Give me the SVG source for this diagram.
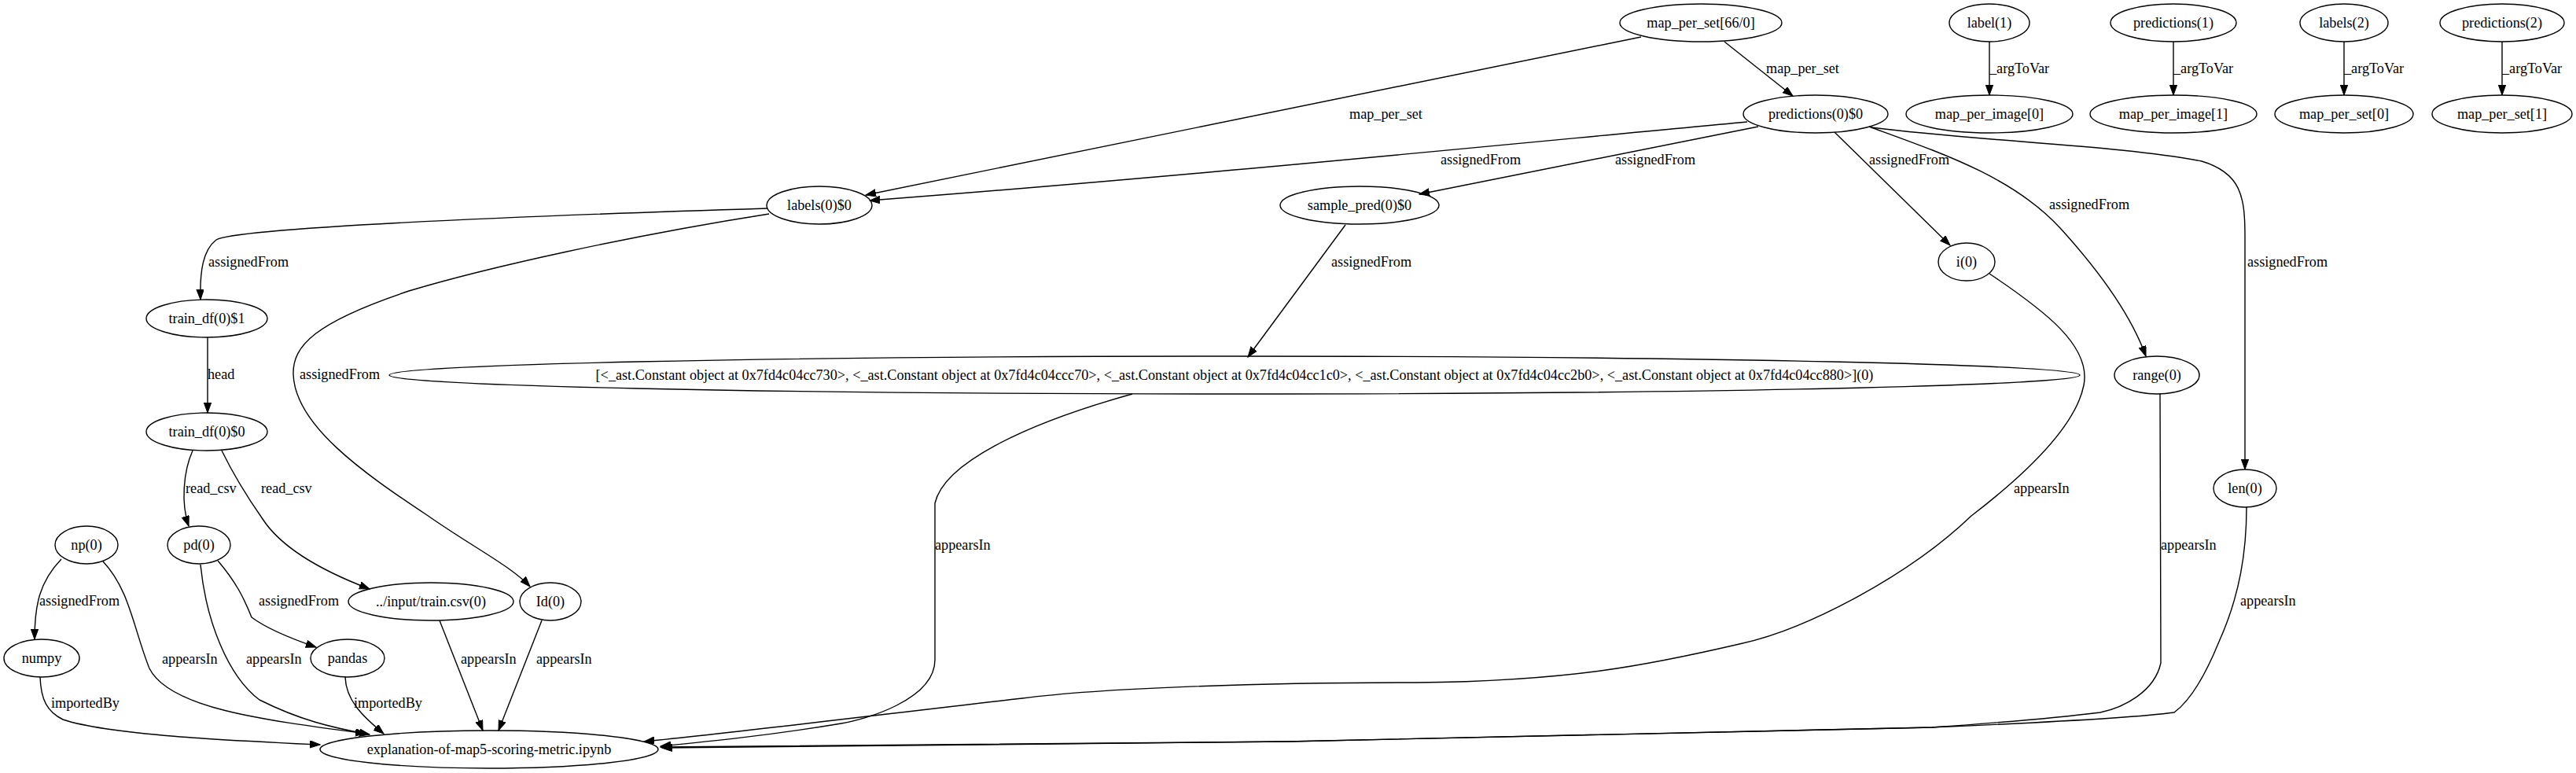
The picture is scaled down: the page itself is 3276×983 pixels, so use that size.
<svg xmlns="http://www.w3.org/2000/svg" width="3276" height="983" viewBox="0 0 3276 983">
<style>
text{font-family:"Liberation Serif","Times New Roman",serif;font-size:18.2px;fill:#000}
.n text{text-anchor:middle}
.n ellipse{fill:none;stroke:#000;stroke-width:1.4}
#edges path{fill:none;stroke:#000;stroke-width:1.4;marker-end:url(#arr)}
</style>
<defs>
<marker id="arr" markerUnits="userSpaceOnUse" markerWidth="14" markerHeight="10" refX="13" refY="4.7" orient="auto">
<path d="M0,0 L13,4.7 L0,9.4 z" fill="#000" stroke="#000" stroke-width="1"/>
</marker>
</defs>
<rect width="3276" height="983" fill="#fff"/>
<g id="edges">
<path d="M2087,47 L1101,248"/>
<text x="1716" y="151">map_per_set</text>
<path d="M2193,53 L2280,122"/>
<text x="2246" y="93">map_per_set</text>
<path d="M2222,155 C1900,185 1500,225 1106,255"/>
<text x="1832" y="209">assignedFrom</text>
<path d="M2236,161 L1805,247"/>
<text x="2054" y="209">assignedFrom</text>
<path d="M2333,168 L2480,312"/>
<text x="2377" y="209">assignedFrom</text>
<path d="M2377,161 C2470,195 2560,225 2620,290 C2670,345 2710,400 2729,453"/>
<text x="2606" y="266">assignedFrom</text>
<path d="M2380,162 C2520,180 2700,185 2800,205 C2850,220 2855,250 2855,300 L2855,597"/>
<text x="2858" y="339">assignedFrom</text>
<path d="M2530,53 L2530,121"/>
<text x="2530" y="93">_argToVar</text>
<path d="M2764,53 L2764,121"/>
<text x="2764" y="93">_argToVar</text>
<path d="M2981,53 L2981,121"/>
<text x="2981" y="93">_argToVar</text>
<path d="M3182,53 L3182,121"/>
<text x="3182" y="93">_argToVar</text>
<path d="M1711,286 L1587,454"/>
<text x="1693" y="339">assignedFrom</text>
<path d="M976,265 C650,275 300,290 275,305 C258,318 254,345 255,381"/>
<text x="265" y="339">assignedFrom</text>
<path d="M978,272 C800,300 620,340 520,370 C400,410 372,440 373,476 C375,540 460,600 543,655 C600,695 650,720 674,746"/>
<text x="381" y="482">assignedFrom</text>
<path d="M264,429 L264,525"/>
<text x="264" y="482">head</text>
<path d="M245,573 C233,600 230,640 240,669"/>
<text x="236" y="627">read_csv</text>
<path d="M282,573 C300,610 320,640 334,660 C360,700 420,730 470,749"/>
<text x="332" y="627">read_csv</text>
<path d="M78,711 C50,740 44,770 44,813"/>
<text x="50" y="770">assignedFrom</text>
<path d="M131,714 C165,750 170,800 190,850 C215,900 330,915 465,933"/>
<text x="206" y="844">appearsIn</text>
<path d="M51,861 C52,890 60,905 80,915 C140,935 300,942 407,947"/>
<text x="65" y="900">importedBy</text>
<path d="M255,718 C262,790 290,860 330,890 C380,915 420,925 470,934"/>
<text x="313" y="844">appearsIn</text>
<path d="M277,713 C300,740 310,760 320,785 C340,800 370,812 402,823"/>
<text x="329" y="770">assignedFrom</text>
<path d="M439,861 C440,890 460,910 488,933"/>
<text x="450" y="900">importedBy</text>
<path d="M559,789 L614,929"/>
<text x="586" y="844">appearsIn</text>
<path d="M689,789 L634,929"/>
<text x="682" y="844">appearsIn</text>
<path d="M1440,501 C1300,540 1200,590 1189,640 L1189,839 C1189,890 1100,915 1070,920 C980,935 900,943 840,949"/>
<text x="1189" y="699">appearsIn</text>
<path d="M2530,348 C2600,395 2660,440 2650,490 C2640,540 2580,600 2507,656 C2430,730 2300,800 2212,819 C2100,845 2000,866 1800,868 C1600,868 1400,875 1300,888 C1150,905 950,930 819,943"/>
<text x="2561" y="627">appearsIn</text>
<path d="M2747,501 L2748,843 C2740,880 2700,900 2671,906 C2600,915 2500,922 2457,925 L1638,943 L840,950"/>
<text x="2748" y="699">appearsIn</text>
<path d="M2857,645 C2857,700 2849,756 2822,816 C2800,870 2780,895 2765,906 C2700,915 2500,923 2457,925 L1638,943 L842,951"/>
<text x="2849" y="770">appearsIn</text>
</g>
<g id="n_map_per_set_66" class="n"><ellipse cx="2163" cy="29" rx="103" ry="24"/><text x="2163" y="35">map_per_set[66/0]</text></g>
<g id="n_label1" class="n"><ellipse cx="2530" cy="29" rx="51" ry="24"/><text x="2530" y="35">label(1)</text></g>
<g id="n_predictions1" class="n"><ellipse cx="2764" cy="29" rx="80" ry="24"/><text x="2764" y="35">predictions(1)</text></g>
<g id="n_labels2" class="n"><ellipse cx="2981" cy="29" rx="56" ry="24"/><text x="2981" y="35">labels(2)</text></g>
<g id="n_predictions2" class="n"><ellipse cx="3182" cy="29" rx="79" ry="24"/><text x="3182" y="35">predictions(2)</text></g>
<g id="n_predictions0" class="n"><ellipse cx="2309" cy="145" rx="92" ry="24"/><text x="2309" y="151">predictions(0)$0</text></g>
<g id="n_mpi0" class="n"><ellipse cx="2530" cy="145" rx="106" ry="24"/><text x="2530" y="151">map_per_image[0]</text></g>
<g id="n_mpi1" class="n"><ellipse cx="2764" cy="145" rx="106" ry="24"/><text x="2764" y="151">map_per_image[1]</text></g>
<g id="n_mps0" class="n"><ellipse cx="2981" cy="145" rx="88" ry="24"/><text x="2981" y="151">map_per_set[0]</text></g>
<g id="n_mps1" class="n"><ellipse cx="3182" cy="145" rx="89" ry="24"/><text x="3182" y="151">map_per_set[1]</text></g>
<g id="n_labels0" class="n"><ellipse cx="1042" cy="261" rx="67" ry="24"/><text x="1042" y="267">labels(0)$0</text></g>
<g id="n_sample_pred" class="n"><ellipse cx="1729" cy="261" rx="101" ry="24"/><text x="1729" y="267">sample_pred(0)$0</text></g>
<g id="n_i0" class="n"><ellipse cx="2501" cy="333" rx="36" ry="24"/><text x="2501" y="339">i(0)</text></g>
<g id="n_train_df1" class="n"><ellipse cx="263" cy="405" rx="77" ry="24"/><text x="263" y="411">train_df(0)$1</text></g>
<g id="n_list" class="n"><ellipse cx="1570" cy="477" rx="1075" ry="24"/><text x="1570" y="483">[&lt;_ast.Constant object at 0x7fd4c04cc730&gt;, &lt;_ast.Constant object at 0x7fd4c04ccc70&gt;, &lt;_ast.Constant object at 0x7fd4c04cc1c0&gt;, &lt;_ast.Constant object at 0x7fd4c04cc2b0&gt;, &lt;_ast.Constant object at 0x7fd4c04cc880&gt;](0)</text></g>
<g id="n_range0" class="n"><ellipse cx="2743" cy="477" rx="54" ry="24"/><text x="2743" y="483">range(0)</text></g>
<g id="n_train_df0" class="n"><ellipse cx="263" cy="549" rx="77" ry="24"/><text x="263" y="555">train_df(0)$0</text></g>
<g id="n_len0" class="n"><ellipse cx="2855" cy="621" rx="40" ry="24"/><text x="2855" y="627">len(0)</text></g>
<g id="n_np0" class="n"><ellipse cx="110" cy="693" rx="40" ry="24"/><text x="110" y="699">np(0)</text></g>
<g id="n_pd0" class="n"><ellipse cx="253" cy="693" rx="40" ry="24"/><text x="253" y="699">pd(0)</text></g>
<g id="n_traincsv" class="n"><ellipse cx="548" cy="765" rx="105" ry="24"/><text x="548" y="771">../input/train.csv(0)</text></g>
<g id="n_Id0" class="n"><ellipse cx="700" cy="765" rx="39" ry="24"/><text x="700" y="771">Id(0)</text></g>
<g id="n_numpy" class="n"><ellipse cx="53" cy="837" rx="48" ry="24"/><text x="53" y="843">numpy</text></g>
<g id="n_pandas" class="n"><ellipse cx="442" cy="837" rx="47" ry="24"/><text x="442" y="843">pandas</text></g>
<g id="n_explanation" class="n"><ellipse cx="622" cy="953" rx="215" ry="24"/><text x="622" y="959">explanation-of-map5-scoring-metric.ipynb</text></g>
</svg>
